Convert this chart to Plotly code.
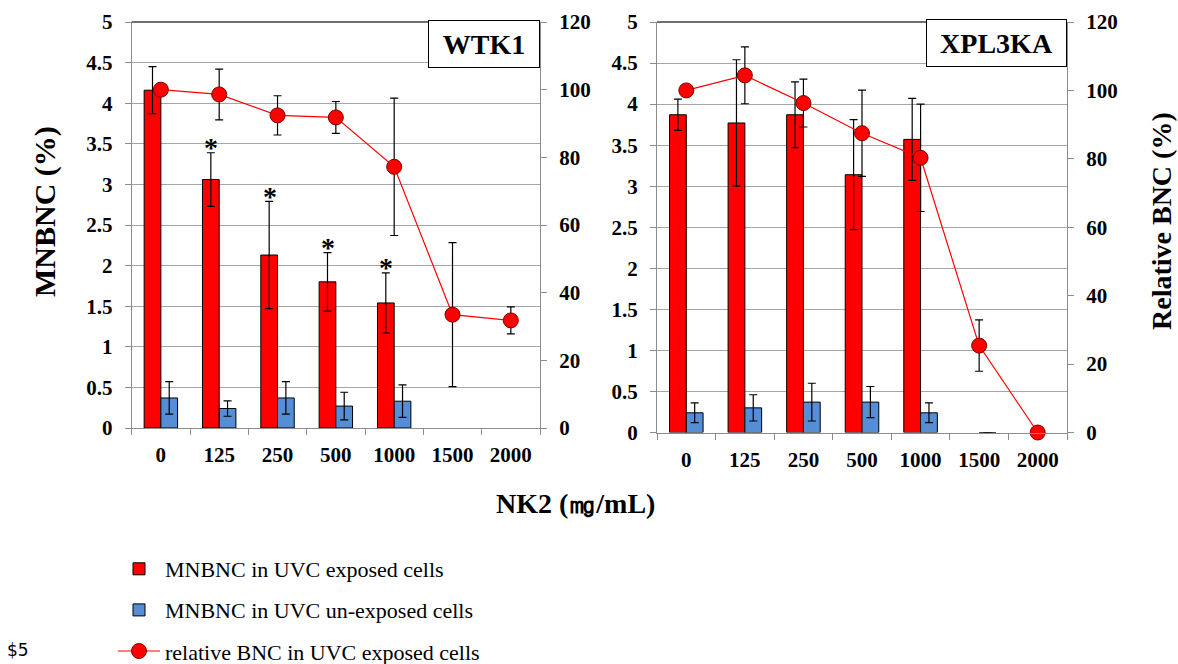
import plotly.graph_objects as go

# ---------------- data ----------------
doses = ["0", "125", "250", "500", "1000", "1500", "2000"]

# WTK1 panel
wt_exp = [4.16, 3.06, 2.13, 1.80, 1.54, None, None]
wt_exp_err = [0.29, 0.33, 0.66, 0.36, 0.37, 0, 0]
wt_unexp = [0.37, 0.24, 0.37, 0.27, 0.33, None, None]
wt_unexp_err = [0.20, 0.095, 0.20, 0.17, 0.20, 0, 0]
wt_rel = [100, 98.6, 92.4, 91.8, 77.2, 33.5, 31.8]
wt_rel_err = [0, 7.5, 5.8, 4.7, 20.3, 21.3, 4.0]
wt_sig = ["125", "250", "500", "1000"]

# XPL3KA panel
xp_exp = [3.87, 3.77, 3.87, 3.14, 3.57, None, None]
xp_exp_err = [0.19, 0.77, 0.40, 0.67, 0.50, 0, 0]
xp_unexp = [0.24, 0.30, 0.37, 0.37, 0.24, 0, None]
xp_unexp_err = [0.12, 0.16, 0.23, 0.19, 0.12, 0, 0]
xp_rel = [100, 104.4, 96.3, 87.5, 80.3, 25.4, 0]
xp_rel_err = [0, 8.3, 7.0, 12.6, 15.7, 7.5, 0]

left_ticks = [0, 0.5, 1, 1.5, 2, 2.5, 3, 3.5, 4, 4.5, 5]
left_ticktext = ["0", "0.5", "1", "1.5", "2", "2.5", "3", "3.5", "4", "4.5", "5"]
right_ticks = [0, 20, 40, 60, 80, 100, 120]

names = ["MNBNC in UVC exposed cells", "MNBNC in UVC un-exposed cells",
         "relative BNC in UVC exposed cells"]

RED = "#ff0000"
BLUE = "#558ed5"
SERIF = "Liberation Serif"
W, H = 1178, 664

fig = go.Figure()


def err(arr):
    return dict(type="data", array=arr, visible=True, color="black",
                thickness=1.2, width=4)


def add_panel(exp, exp_err, unexp, unexp_err, rel, rel_err, xa, ya, ya2, legend):
    fig.add_trace(go.Bar(x=doses, y=exp, error_y=err(exp_err), name=names[0],
                         marker=dict(color=RED, line=dict(color="black", width=1)),
                         offsetgroup="1", legendgroup="a", showlegend=legend,
                         xaxis=xa, yaxis=ya))
    fig.add_trace(go.Bar(x=doses, y=unexp, error_y=err(unexp_err), name=names[1],
                         marker=dict(color=BLUE, line=dict(color="black", width=1)),
                         offsetgroup="2", legendgroup="b", showlegend=legend,
                         xaxis=xa, yaxis=ya))
    fig.add_trace(go.Scatter(x=doses, y=rel, error_y=err(rel_err), name=names[2],
                             mode="lines+markers", cliponaxis=False,
                             line=dict(color=RED, width=1.2),
                             marker=dict(color=RED, size=15,
                                         line=dict(color="#7a0000", width=1)),
                             legendgroup="c", showlegend=legend,
                             xaxis=xa, yaxis=ya2))


add_panel(wt_exp, wt_exp_err, wt_unexp, wt_unexp_err, wt_rel, wt_rel_err,
          "x", "y", "y2", True)
add_panel(xp_exp, xp_exp_err, xp_unexp, xp_unexp_err, xp_rel, xp_rel_err,
          "x2", "y3", "y4", False)

tickfont = dict(family=SERIF, size=21, color="black", weight="bold")
AX = "#8c8c8c"
GRID = "#a6a6a6"

xcommon = dict(type="category", categoryorder="array", categoryarray=doses,
               range=[-0.5, len(doses) - 0.5],
               showline=True, linecolor=AX, linewidth=1,
               ticks="outside", tickson="boundaries", ticklen=6, tickcolor=AX,
               tickfont=tickfont, ticklabelstandoff=8, showgrid=False,
               fixedrange=True)
ycommon = dict(range=[0, 5], tickvals=left_ticks, ticktext=left_ticktext,
               showline=True, linecolor=AX, linewidth=1, ticks="outside",
               ticklen=6, tickcolor=AX, tickfont=tickfont, ticklabelstandoff=8,
               showgrid=True, gridcolor=GRID, gridwidth=1, zeroline=False)
y2common = dict(range=[0, 120], tickvals=right_ticks, side="right",
                showline=True, linecolor=AX, linewidth=1, ticks="outside",
                ticklen=6, tickcolor=AX, tickfont=tickfont, ticklabelstandoff=8,
                showgrid=False, zeroline=False)

ytop = 1 - 22 / H
fig.update_layout(
    width=W, height=H,
    margin=dict(l=0, r=0, t=0, b=0, autoexpand=False),
    paper_bgcolor="white", plot_bgcolor="white",
    barmode="group", bargap=0.427, bargroupgap=0,
    font=dict(family=SERIF, color="black"),
    xaxis=dict(domain=[131.7 / W, 540 / W], anchor="y", **xcommon),
    yaxis=dict(domain=[1 - 428 / H, ytop], anchor="x", **ycommon),
    yaxis2=dict(overlaying="y", anchor="x", **y2common),
    xaxis2=dict(domain=[657 / W, 1067 / W], anchor="y3", **xcommon),
    yaxis3=dict(domain=[1 - 432.5 / H, ytop], anchor="x2", **ycommon),
    yaxis4=dict(overlaying="y3", anchor="x2", **y2common),
    legend=dict(x=113 / W, xanchor="left", y=1 - 548 / H, yanchor="top",
                orientation="v", tracegroupgap=9.5, itemwidth=42,
                font=dict(family=SERIF, size=22, color="black"),
                bgcolor="rgba(0,0,0,0)"),
    showlegend=True,
)

# darker top border of each plot area
for xr, yr in (("x domain", "y domain"), ("x2 domain", "y3 domain")):
    fig.add_shape(type="line", xref=xr, yref=yr, x0=0, x1=1, y0=1, y1=1,
                  line=dict(color="#404040", width=1.5))

ann = []
# panel labels
ann.append(dict(text="<b>WTK1</b>", xref="x domain", yref="y domain", x=1, y=1,
                xanchor="right", yanchor="top", yshift=1.5, showarrow=False,
                font=dict(family=SERIF, size=28, color="black"),
                bgcolor="white", bordercolor="black", borderwidth=1,
                borderpad=4, width=102, height=38))
ann.append(dict(text="<b>XPL3KA</b>", xref="x2 domain", yref="y3 domain", x=1, y=1,
                xanchor="right", yanchor="top", yshift=2.5, showarrow=False,
                font=dict(family=SERIF, size=28, color="black"),
                bgcolor="white", bordercolor="black", borderwidth=1,
                borderpad=4, width=131, height=38))
# significance asterisks over the exposed bars (category index on the x axis)
for d in wt_sig:
    i = doses.index(d)
    ann.append(dict(text="<b>*</b>", x=i, y=wt_exp[i] + wt_exp_err[i],
                    xref="x", yref="y", xshift=-8, yshift=5,
                    xanchor="center", yanchor="middle", showarrow=False,
                    font=dict(family=SERIF, size=28, color="black")))
# axis titles
ann.append(dict(text="<b>MNBNC (%)</b>", xref="paper", yref="paper",
                x=45 / W, y=1 - 212 / H, xanchor="center", yanchor="middle",
                textangle=-90, showarrow=False,
                font=dict(family=SERIF, size=30, color="black")))
ann.append(dict(text="<b>Relative BNC (%)</b>", xref="paper", yref="paper",
                x=1162 / W, y=1 - 221 / H, xanchor="center", yanchor="middle",
                textangle=-90, showarrow=False,
                font=dict(family=SERIF, size=28, color="black")))
ann.append(dict(text="<b>NK2 (\u338e/mL)</b>", xref="paper", yref="paper",
                x=575 / W, y=1 - 503 / H, xanchor="center", yanchor="middle",
                showarrow=False,
                font=dict(family=SERIF, size=28, color="black")))
ann.append(dict(text="$5", xref="paper", yref="paper",
                x=18 / W, y=1 - 650 / H, xanchor="center", yanchor="middle",
                showarrow=False,
                font=dict(family="DejaVu Sans", size=17, color="black")))
fig.update_layout(annotations=ann)

fig.write_html("out.html",
               config={"displayModeBar": False},
               post_script="document.body.style.margin='0';")
